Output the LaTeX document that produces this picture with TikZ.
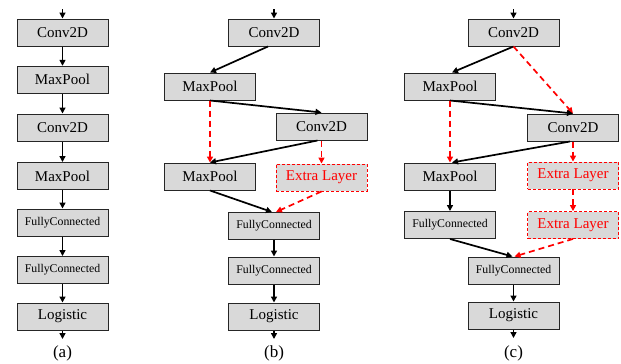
\documentclass[tikz,border=0pt]{standalone}
\usepackage{fontspec}
\setmainfont{Liberation Serif}
\usetikzlibrary{arrows.meta}
\definecolor{boxgray}{RGB}{217,217,217}
\definecolor{xred}{RGB}{255,0,0}
\tikzset{
  layer/.style={draw=black!85, line width=1pt, fill=boxgray, minimum width=91pt, minimum height=27pt, inner sep=0pt, font=\fontsize{15}{17}\selectfont},
  fclayer/.style={layer, font=\fontsize{11.8}{13}\selectfont},
  extralayer/.style={layer, draw=xred, dash pattern=on 3pt off 2pt, line width=0.9pt, text=xred},
  conn/.style={line width=1.7pt, -{Triangle[length=6pt,width=6pt]}},
  redconn/.style={line width=1.7pt, draw=xred, dash pattern=on 6pt off 4pt, -{Triangle[length=6pt,width=6pt]}, color=xred},
  caption/.style={font=\fontsize{17}{19}\selectfont}
}
\begin{document}
\begin{tikzpicture}[x=1pt,y=-1pt]
\useasboundingbox (0,0) rectangle (621,364);
% ---------- (a)
\node[layer]   (a1) at (62.5,32.5) {Conv2D};
\node[layer]   (a2) at (62.5,79.8) {MaxPool};
\node[layer]   (a3) at (62.5,127.5) {Conv2D};
\node[layer]   (a4) at (62.5,176) {MaxPool};
\node[fclayer] (a5) at (62.5,222.5) {FullyConnected};
\node[fclayer] (a6) at (62.5,270) {FullyConnected};
\node[layer]   (a7) at (62.5,316.5) {Logistic};
\coordinate (ain) at (62.5,9);
\coordinate (aout) at (62.5,339);
\node[caption] (alab) at (62.5,353) {(a)};
\draw[conn] (ain) -- (a1);
\draw[conn] (a1) -- (a2);
\draw[conn] (a2) -- (a3);
\draw[conn] (a3) -- (a4);
\draw[conn] (a4) -- (a5);
\draw[conn] (a5) -- (a6);
\draw[conn] (a6) -- (a7);
\draw[conn] (a7) -- (aout);
% ---------- (b)
\node[layer]      (b1) at (274,32.5) {Conv2D};
\node[layer]      (b2) at (210,86.5) {MaxPool};
\node[layer]      (b3) at (321.5,126.5) {Conv2D};
\node[layer]      (b4) at (210,176.5) {MaxPool};
\node[extralayer] (bx) at (321.5,177.5) {Extra Layer};
\node[fclayer]    (b5) at (274,226) {FullyConnected};
\node[fclayer]    (b6) at (274,270.5) {FullyConnected};
\node[layer]      (b7) at (274,316.5) {Logistic};
\coordinate (bin) at (274,9);
\coordinate (bout) at (274,339);
\node[caption] (blab) at (274,353) {(b)};
\draw[conn] (bin) -- (b1);
\draw[conn] ([xshift=-6pt]b1.south) -- (b2.north);
\draw[conn] (b2.south) -- (b3.north);
\draw[redconn] (b2.south) -- (b4.north);
\draw[conn] ([xshift=-4pt]b3.south) -- (b4.north);
\draw[redconn] (b3.south) -- (bx.north);
\draw[conn] (b4.south) -- ([xshift=-2pt]b5.north);
\draw[redconn] (bx.south) -- ([xshift=2pt]b5.north);
\draw[conn] (b5) -- (b6);
\draw[conn] (b6) -- (b7);
\draw[conn] (b7) -- (bout);
% ---------- (c)
\node[layer]      (c1) at (513.5,32.5) {Conv2D};
\node[layer]      (c2) at (450,86.5) {MaxPool};
\node[layer]      (c3) at (573,127.5) {Conv2D};
\node[layer]      (c4) at (450,176.5) {MaxPool};
\node[extralayer] (cx1) at (573,175.5) {Extra Layer};
\node[fclayer]    (c5) at (450,225) {FullyConnected};
\node[extralayer] (cx2) at (573,225) {Extra Layer};
\node[fclayer]    (c6) at (513.5,270.5) {FullyConnected};
\node[layer]      (c7) at (513.5,315.5) {Logistic};
\coordinate (cin) at (513.5,9);
\coordinate (cout) at (513.5,338);
\node[caption] (clab) at (513.5,353) {(c)};
\draw[conn] (cin) -- (c1);
\draw[conn] (c1.south) -- ([xshift=2pt]c2.north);
\draw[redconn] (c1.south) -- (c3.north);
\draw[conn] (c2.south) -- (c3.north);
\draw[redconn] (c2.south) -- (c4.north);
\draw[conn] ([xshift=-3pt]c3.south) -- ([xshift=2pt]c4.north);
\draw[redconn] (c3.south) -- (cx1.north);
\draw[conn] (c4) -- (c5);
\draw[redconn] (cx1) -- (cx2);
\draw[conn] (c5.south) -- ([xshift=-1pt]c6.north);
\draw[redconn] (cx2.south) -- ([xshift=1pt]c6.north);
\draw[conn] (c6) -- (c7);
\draw[conn] (c7) -- (cout);
\end{tikzpicture}
\end{document}
